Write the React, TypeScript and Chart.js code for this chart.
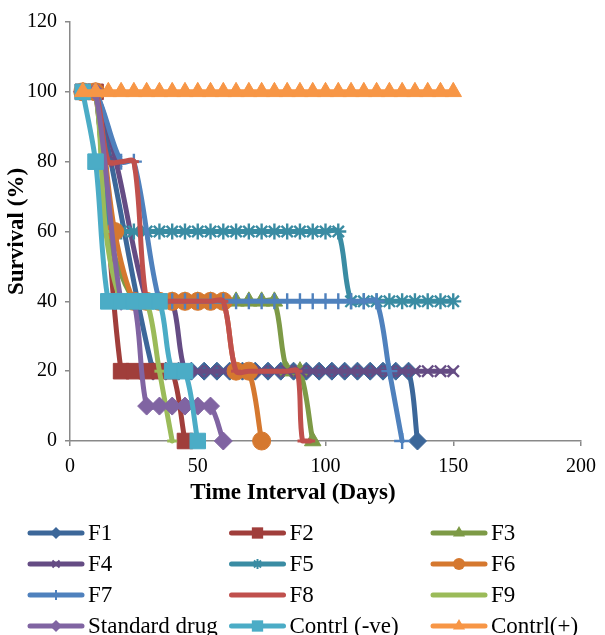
import React, { useEffect, useRef } from 'react';
import { Chart, registerables } from 'chart.js';

Chart.register(...registerables);

// ---------------- data ----------------
const seriesNames = ['F1', 'F2', 'F3', 'F4', 'F5', 'F6', 'F7', 'F8', 'F9', 'Standard drug', 'Contrl (-ve)', 'Contrl(+)'];

const f1Days = [5, 10, 32.5, 37.5, 42.5, 47.5, 52.5, 57.5, 62.5, 67.5, 72.5, 77.5, 82.5, 87.5, 92.5, 97.5, 102.5, 107.5, 112.5, 117.5, 122.5, 127.5, 132.5, 136];
const f1Survival = [100, 100, 20, 20, 20, 20, 20, 20, 20, 20, 20, 20, 20, 20, 20, 20, 20, 20, 20, 20, 20, 20, 20, 0];

const f2Days = [5, 10, 20, 25, 30, 35, 40, 45];
const f2Survival = [100, 100, 20, 20, 20, 20, 20, 0];

const f3Days = [5, 10, 15, 25, 30, 35, 40, 45, 50, 55, 60, 65, 70, 75, 80, 85, 90, 95];
const f3Survival = [100, 100, 60, 40, 40, 40, 40, 40, 40, 40, 40, 40, 40, 40, 40, 20, 20, 0];

const f4Days = [5, 10, 18, 30, 35, 40, 45, 50, 55, 60, 65, 70, 75, 80, 85, 90, 95, 100, 105, 110, 115, 120, 125, 130, 135, 140, 145, 150];
const f4Survival = [100, 100, 80, 40, 40, 40, 20, 20, 20, 20, 20, 20, 20, 20, 20, 20, 20, 20, 20, 20, 20, 20, 20, 20, 20, 20, 20, 20];

const f5Days = [5, 10, 15, 20, 25, 30, 35, 40, 45, 50, 55, 60, 65, 70, 75, 80, 85, 90, 95, 100, 105, 110, 115, 120, 125, 130, 135, 140, 145, 150];
const f5Survival = [100, 100, 60, 60, 60, 60, 60, 60, 60, 60, 60, 60, 60, 60, 60, 60, 60, 60, 60, 60, 60, 40, 40, 40, 40, 40, 40, 40, 40, 40];

const f6Days = [5, 10, 17.5, 25, 30, 35, 40, 45, 50, 55, 60, 65, 70, 75];
const f6Survival = [100, 100, 60, 40, 40, 40, 40, 40, 40, 40, 40, 20, 20, 0];

const f7Days = [5, 10, 20, 25, 35, 40, 45, 50, 55, 60, 65, 70, 75, 80, 85, 90, 95, 100, 105, 110, 115, 120, 125, 130];
const f7Survival = [100, 100, 80, 80, 40, 40, 40, 40, 40, 40, 40, 40, 40, 40, 40, 40, 40, 40, 40, 40, 40, 40, 20, 0];

const f8Days = [5, 10, 15, 20, 25, 30, 35, 40, 45, 50, 55, 60, 65, 70, 75, 80, 85, 89, 91, 94];
const f8Survival = [100, 100, 80, 80, 80, 40, 40, 40, 40, 40, 40, 40, 20, 20, 20, 20, 20, 20, 0, 0];

const f9Days = [5, 10, 14, 20, 25, 30, 35, 40];
const f9Survival = [100, 100, 60, 40, 40, 40, 20, 0];

const stdDrugDays = [5, 10, 20, 25, 30, 35, 40, 45, 50, 55, 60];
const stdDrugSurvival = [100, 100, 40, 40, 10, 10, 10, 10, 10, 10, 0];

const negCtrlDays = [5, 10, 15, 20, 25, 30, 35, 40, 45, 50];
const negCtrlSurvival = [100, 80, 40, 40, 40, 40, 40, 20, 20, 0];

const posCtrlDays = [5, 10, 15, 20, 25, 30, 35, 40, 45, 50, 55, 60, 65, 70, 75, 80, 85, 90, 95, 100, 105, 110, 115, 120, 125, 130, 135, 140, 145, 150];
const posCtrlSurvival = [100, 100, 100, 100, 100, 100, 100, 100, 100, 100, 100, 100, 100, 100, 100, 100, 100, 100, 100, 100, 100, 100, 100, 100, 100, 100, 100, 100, 100, 100];

const yTicks = [0, 20, 40, 60, 80, 100, 120];
const xTicks = [0, 50, 100, 150, 200];

const xTitle = 'Time Interval (Days)';
const yTitle = 'Survival (%)';

// ---------------- styles ----------------
const seriesDays = [f1Days, f2Days, f3Days, f4Days, f5Days, f6Days, f7Days, f8Days, f9Days, stdDrugDays, negCtrlDays, posCtrlDays];
const seriesSurvival = [f1Survival, f2Survival, f3Survival, f4Survival, f5Survival, f6Survival, f7Survival, f8Survival, f9Survival, stdDrugSurvival, negCtrlSurvival, posCtrlSurvival];

const colors = ['#3C6799', '#A03E3B', '#7D9A46', '#654C84', '#3A8CA3', '#D5782F', '#4F81BD', '#C0504D', '#9BBB59', '#8064A2', '#4BACC6', '#F79646'];
const markers: (string | null)[] = ['rectRot', 'rect', 'triangle', 'crossRot', 'star', 'circle', 'cross', 'line', 'line', 'rectRot', 'rect', 'triangle'];
const markerRadius = [9, 11, 9.5, 8, 8, 9, 8, 5, 5, 9, 11, 9.5];
const legendMarkers: (string | null)[] = ['rectRot', 'rect', 'triangle', 'crossRot', 'star', 'circle', 'cross', null, null, 'rectRot', 'rect', 'triangle'];
const legendRadius = [6, 8, 7, 5, 5, 6, 5, 0, 0, 6, 8, 7];

const SERIF = "'Liberation Serif', 'Times New Roman', Times, serif";
const TICK_SIZE = 20;
const TITLE_SIZE = 23;
const LEGEND_SIZE = 23;
const AXIS_COLOR = '#898989';

function drawMarker(ctx: CanvasRenderingContext2D, style: string, x: number, y: number, r: number, color: string) {
  ctx.save();
  ctx.fillStyle = color;
  ctx.strokeStyle = color;
  ctx.lineWidth = 2;
  ctx.beginPath();
  if (style === 'rectRot') {
    ctx.moveTo(x, y - r); ctx.lineTo(x + r, y); ctx.lineTo(x, y + r); ctx.lineTo(x - r, y); ctx.closePath(); ctx.fill();
  } else if (style === 'rect') {
    const s = r * Math.SQRT1_2;
    ctx.rect(x - s, y - s, 2 * s, 2 * s); ctx.fill();
  } else if (style === 'triangle') {
    for (let k = 0; k < 3; k++) {
      const a = (k * 2 * Math.PI) / 3;
      const px = x + Math.sin(a) * r, py = y - Math.cos(a) * r;
      if (k === 0) ctx.moveTo(px, py); else ctx.lineTo(px, py);
    }
    ctx.closePath(); ctx.fill();
  } else if (style === 'circle') {
    ctx.arc(x, y, r, 0, Math.PI * 2); ctx.fill();
  } else if (style === 'crossRot') {
    const d = r * Math.SQRT1_2;
    ctx.moveTo(x - d, y - d); ctx.lineTo(x + d, y + d); ctx.moveTo(x + d, y - d); ctx.lineTo(x - d, y + d); ctx.stroke();
  } else if (style === 'cross') {
    ctx.moveTo(x, y - r); ctx.lineTo(x, y + r); ctx.moveTo(x - r, y); ctx.lineTo(x + r, y); ctx.stroke();
  } else if (style === 'star') {
    const d = r * Math.SQRT1_2;
    ctx.moveTo(x, y - r); ctx.lineTo(x, y + r);
    ctx.moveTo(x - d, y - d); ctx.lineTo(x + d, y + d); ctx.moveTo(x + d, y - d); ctx.lineTo(x - d, y + d); ctx.stroke();
  }
  ctx.restore();
}

const overlayPlugin = {
  id: 'overlay',
  afterDraw(chart: any) {
    const ctx: CanvasRenderingContext2D = chart.ctx;
    const area = chart.chartArea;
    ctx.save();
    ctx.fillStyle = '#000';
    ctx.textBaseline = 'middle';
    ctx.textAlign = 'center';
    ctx.font = `bold ${TITLE_SIZE}px ${SERIF}`;
    ctx.fillText(xTitle, area.left + 223, area.bottom + 52);
    ctx.save();
    ctx.translate(17, (area.top + area.bottom) / 2);
    ctx.rotate(-Math.PI / 2);
    ctx.fillText(yTitle, 0, 0);
    ctx.restore();

    // legend, 3 columns
    ctx.font = `${LEGEND_SIZE}px ${SERIF}`;
    ctx.textAlign = 'left';
    for (let i = 0; i < seriesNames.length; i++) {
      const col = i % 3;
      const row = Math.floor(i / 3);
      const x0 = 30 + col * 201.5;
      const y = 533 + row * 31;
      ctx.save();
      ctx.strokeStyle = colors[i];
      ctx.lineWidth = 5;
      ctx.lineCap = 'round';
      ctx.beginPath();
      ctx.moveTo(x0, y);
      ctx.lineTo(x0 + 52, y);
      ctx.stroke();
      ctx.restore();
      const m = legendMarkers[i];
      if (m) drawMarker(ctx, m, x0 + 26, y, legendRadius[i], colors[i]);
      ctx.fillStyle = '#000';
      ctx.fillText(seriesNames[i], x0 + 58, y + 1);
    }
    ctx.restore();
  },
};

export default function App() {
  const canvasRef = useRef<HTMLCanvasElement | null>(null);

  useEffect(() => {
    if (!canvasRef.current) return;
    const datasets = seriesNames.map((name, i) => {
      const style = markers[i];
      const stroked = style === 'crossRot' || style === 'cross' || style === 'star' || style === 'line';
      return {
        label: name,
        data: seriesDays[i].map((d, k) => ({ x: d, y: seriesSurvival[i][k] })),
        borderColor: colors[i],
        backgroundColor: colors[i],
        borderWidth: 5,
        borderCapStyle: 'round',
        borderJoinStyle: 'round',
        tension: 0.33,
        pointStyle: style,
        pointRadius: markerRadius[i],
        pointHoverRadius: markerRadius[i],
        pointBackgroundColor: colors[i],
        pointBorderColor: colors[i],
        pointBorderWidth: stroked ? (style === 'line' ? 3 : 2.4) : 1,
        clip: false,
        order: -i,
      };
    });

    const chart = new Chart(canvasRef.current, {
      type: 'line',
      data: { datasets: datasets as any },
      options: {
        animation: false,
        responsive: false,
        devicePixelRatio: 1,
        layout: { padding: { top: 22, right: 18, left: 0, bottom: 0 } },
        plugins: { legend: { display: false }, tooltip: { enabled: false }, title: { display: false } },
        scales: {
          x: {
            type: 'linear',
            min: xTicks[0],
            max: xTicks[xTicks.length - 1],
            afterBuildTicks: (s: any) => { s.ticks = xTicks.map((v) => ({ value: v })); },
            ticks: { padding: 9, color: '#000', font: { family: SERIF, size: TICK_SIZE } },
            grid: { drawOnChartArea: false, drawTicks: true, tickLength: 5, color: AXIS_COLOR, lineWidth: 1.5 },
            border: { display: true, color: AXIS_COLOR, width: 1.5 },
            afterFit: (s: any) => { s.height = 194; },
          },
          y: {
            type: 'linear',
            min: yTicks[0],
            max: yTicks[yTicks.length - 1],
            afterBuildTicks: (s: any) => { s.ticks = yTicks.map((v) => ({ value: v })); },
            ticks: { padding: 8, color: '#000', font: { family: SERIF, size: TICK_SIZE } },
            grid: { drawOnChartArea: false, drawTicks: true, tickLength: 5, color: AXIS_COLOR, lineWidth: 1.5 },
            border: { display: true, color: AXIS_COLOR, width: 1.5 },
            afterFit: (s: any) => { s.width = 70; },
          },
        },
      } as any,
      plugins: [overlayPlugin],
    });
    return () => chart.destroy();
  }, []);

  return (
    <div style={{ position: 'absolute', left: 0, top: 0, width: 605, height: 635, background: '#fff' }}>
      <canvas ref={canvasRef} width={605} height={635} style={{ display: 'block' }} />
    </div>
  );
}
